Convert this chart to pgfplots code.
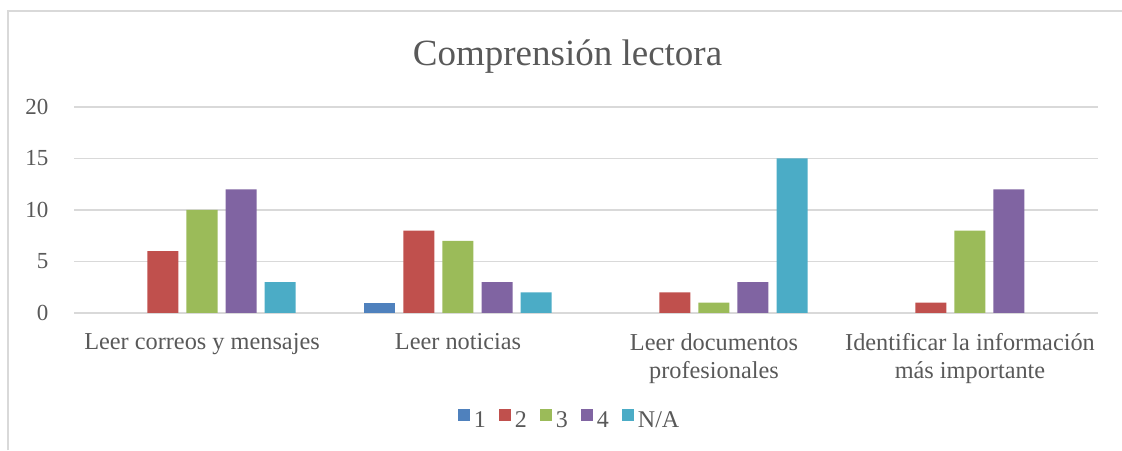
\documentclass[border=0pt]{standalone}
\usepackage{pgfplots}
\pgfplotsset{compat=1.18}
\usepackage{fontspec}
\setmainfont{Liberation Serif}
\definecolor{c1}{HTML}{4F81BD}
\definecolor{c2}{HTML}{C0504D}
\definecolor{c3}{HTML}{9BBB59}
\definecolor{c4}{HTML}{8064A2}
\definecolor{c5}{HTML}{4BACC6}
\definecolor{txt}{HTML}{595959}
\definecolor{grd}{HTML}{D9D9D9}
\begin{document}
\begin{tikzpicture}
\path[use as bounding box] (0pt,0pt) rectangle (1122pt,450pt);
\draw[grd, line width=1.2pt] (8pt,0pt) -- (8pt,439pt) -- (1122pt,439pt);
\begin{axis}[
  at={(74pt,137pt)}, anchor=south west,
  scale only axis, width=1024pt, height=206pt,
  clip=false,
  ybar=8pt, bar width=31pt,
  xmin=-0.5, xmax=3.5, ymin=0, ymax=20,
  ytick={0,5,10,15,20},
  xtick={0,1,2,3},
  xticklabels={Leer correos y mensajes, Leer noticias, {Leer documentos\\profesionales}, {Identificar la información\\más importante}},
  xticklabel style={align=center, font=\fontsize{24.3}{28}\selectfont, text=txt, yshift=-17pt},
  yticklabel style={font=\fontsize{23}{24}\selectfont, text=txt, xshift=-22pt},
  /pgf/number format/assume math mode=true,
  major tick length=0pt,
  axis line style={draw=none},
  ymajorgrids, major grid style={grd, line width=1.2pt},
  legend columns=5,
  legend style={draw=none, at={(0.484,-0.519)}, anchor=center, font=\fontsize{24}{26}\selectfont, text=txt,
    /tikz/every even column/.append style={column sep=11pt},
    /tikz/every odd column/.append style={column sep=2pt}},
  legend image code/.code={\fill[#1] (0pt,-1pt) rectangle (12pt,11pt);},
]
\addplot[fill=c1, draw=none] coordinates {(1,1)};
\addplot[fill=c2, draw=none] coordinates {(0,6) (1,8) (2,2) (3,1)};
\addplot[fill=c3, draw=none] coordinates {(0,10) (1,7) (2,1) (3,8)};
\addplot[fill=c4, draw=none] coordinates {(0,12) (1,3) (2,3) (3,12)};
\addplot[fill=c5, draw=none] coordinates {(0,3) (1,2) (2,15)};
\legend{1,2,3,4,N/A}
\node[text=txt, font=\fontsize{37}{40}\selectfont] at (axis description cs:0.482,1.245) {Comprensión lectora};
\end{axis}
\end{tikzpicture}
\end{document}
